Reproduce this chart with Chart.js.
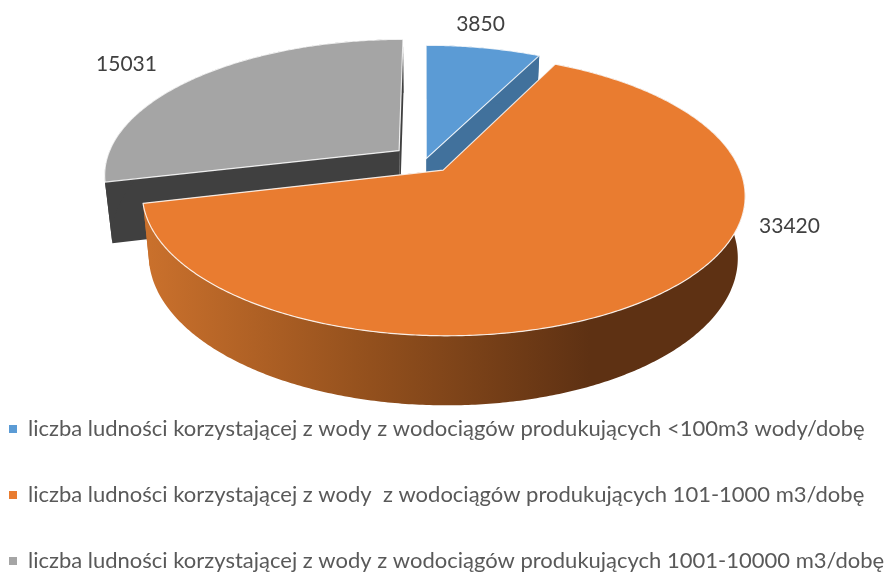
<!DOCTYPE html>
<html><head><meta charset="utf-8">
<style>html,body{margin:0;padding:0;background:#fff}#w{width:885px;height:572px}</style>
<script src="https://cdn.jsdelivr.net/npm/chart.js@4"></script></head>
<body><div id="w"><canvas id="c"></canvas></div>
<script>
const categories = [
  'liczba ludności korzystającej z wody z wodociągów produkujących <100m3 wody/dobę',
  'liczba ludności korzystającej z wody  z wodociągów produkujących 101-1000 m3/dobę',
  'liczba ludności korzystającej z wody z wodociągów produkujących 1001-10000 m3/dobę'
];
const values = [3850, 33420, 15031];
const topColors = ['#5b9bd5', '#e97c30', '#a5a5a5'];
const wallColors = ['#41719c', null, '#404040'];
const sliceOffsets = [3, 28, 34];
const labelAnchors = [[55, -136], [364, 66], [-299, -96]];

const TILT = 0.455, PERSP = 0.172, DEPTH = 60, TAPER = 0.023, SHIFT_X = -17, SHIFT_Y = -27;

const pie3d = {
  id: 'pie3d',
  beforeDatasetDraw(chart, args) {
    const ctx = chart.ctx, els = chart.getDatasetMeta(args.index).data;
    const R = els[0].outerRadius, cx = els[0].x + SHIFT_X, cy = els[0].y + SHIFT_Y;
    const project = (X, Y, z) => {
      const s = 1 / (1 - PERSP * Y / R), f = 1 - TAPER * z / DEPTH;
      return [cx + X * s * f, cy + TILT * Y * s * f + z * s];
    };
    const geom = els.map((el, i) => {
      const mid = (el.startAngle + el.endAngle) / 2, o = el.options.offset;
      const ox = Math.cos(mid) * o, oy = Math.sin(mid) * o;
      const rim = [], n = Math.ceil((el.endAngle - el.startAngle) / 0.01);
      for (let k = 0; k <= n; k++) {
        const a = el.startAngle + (el.endAngle - el.startAngle) * k / n;
        rim.push([ox + R * Math.cos(a), oy + R * Math.sin(a)]);
      }
      return {ox, oy, rim, el, i};
    });
    const poly = (pts, fill) => {
      ctx.beginPath();
      pts.forEach((p, k) => k ? ctx.lineTo(p[0], p[1]) : ctx.moveTo(p[0], p[1]));
      ctx.closePath();
      ctx.fillStyle = fill;
      ctx.fill();
    };
    const outline = () => {
      ctx.strokeStyle = 'rgba(255,255,255,0.85)';
      ctx.lineWidth = 1.2;
      ctx.lineJoin = 'round';
      ctx.stroke();
    };
    const drawWalls = (g, fill) => {
      const a = project(g.ox, g.oy, 0), a2 = project(g.ox, g.oy, DEPTH);
      const first = g.rim[0], last = g.rim[g.rim.length - 1];
      const rimTop = g.rim.map(p => project(p[0], p[1], 0));
      const rimBot = g.rim.map(p => project(p[0], p[1], DEPTH));
      poly([a, project(first[0], first[1], 0), project(first[0], first[1], DEPTH), a2], fill);
      poly([a, project(last[0], last[1], 0), project(last[0], last[1], DEPTH), a2], fill);
      poly(rimTop.concat(rimBot.slice().reverse()), fill);
    };
    const drawTop = (g) => {
      const pts = [project(g.ox, g.oy, 0)].concat(g.rim.map(p => project(p[0], p[1], 0)));
      poly(pts, g.el.options.backgroundColor);
      outline();
    };
    drawWalls(geom[2], wallColors[2]);
    drawWalls(geom[0], wallColors[0]);
    drawTop(geom[2]);
    drawTop(geom[0]);
    const grad = ctx.createLinearGradient(150, 0, 590, 0);
    grad.addColorStop(0, '#c9702c');
    grad.addColorStop(0.5, '#93501d');
    grad.addColorStop(1, '#5e3113');
    drawWalls(geom[1], grad);
    drawTop(geom[1]);
    ctx.font = '21px Lato, "Open Sans", sans-serif';
    ctx.fillStyle = '#404040';
    ctx.textAlign = 'center';
    ctx.textBaseline = 'middle';
    els.forEach((el, i) => {
      ctx.fillText(String(values[i]), cx + labelAnchors[i][0], cy + labelAnchors[i][1]);
    });
    return false;
  }
};

new Chart(document.getElementById('c'), {
  type: 'pie',
  data: {
    labels: categories,
    datasets: [{
      data: values,
      backgroundColor: topColors,
      borderWidth: 0,
      offset: sliceOffsets
    }]
  },
  plugins: [pie3d],
  options: {
    responsive: true,
    maintainAspectRatio: false,
    animation: false,
    radius: 293,
    layout: {padding: {left: -35, right: 0, top: 0, bottom: -10}},
    plugins: {
      tooltip: {enabled: false},
      legend: {
        position: 'bottom',
        align: 'start',
        labels: {
          boxWidth: 8, boxHeight: 8, padding: 44,
          color: '#595959',
          font: {family: 'Lato, "Open Sans", sans-serif', size: 22}
        }
      }
    }
  }
});
</script></body></html>
